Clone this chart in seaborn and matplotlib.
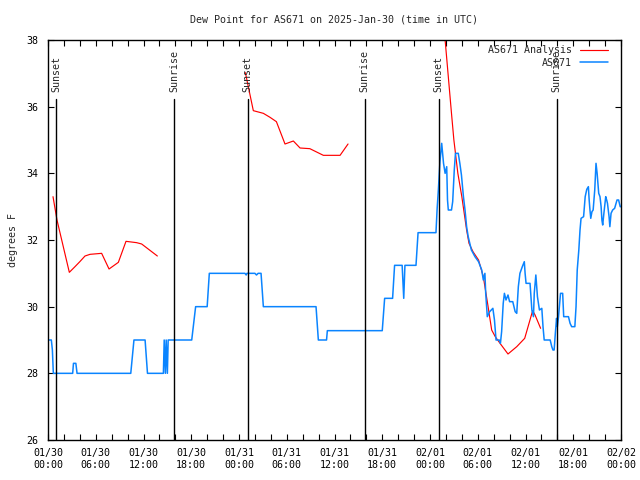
import numpy as np
import pandas as pd
import matplotlib
matplotlib.use('Agg')
import matplotlib.pyplot as plt
import seaborn as sns

# hours since 2025-01-30 00:00 UTC
analysis_seg1_t = [0.63, 1.13, 2.68, 3.39, 4.0, 4.65, 5.28, 6.74, 7.67, 8.84, 9.8, 11.14, 11.77, 13.74]
analysis_seg1_v = [33.3, 32.6, 31.03, 31.2, 31.35, 31.52, 31.57, 31.6, 31.13, 31.33, 31.96, 31.92, 31.88, 31.52]
analysis_seg2_t = [24.8, 25.8, 27.06, 27.9, 28.7, 29.78, 30.83, 31.67, 32.9, 34.6, 36.7, 37.7]
analysis_seg2_v = [37.02, 35.88, 35.8, 35.68, 35.55, 34.88, 34.97, 34.76, 34.74, 34.54, 34.54, 34.88]
analysis_seg3_t = [48.85, 49.5, 49.9, 50.3, 50.7, 51.0, 51.5, 52.0, 52.6, 52.9, 53.4, 54.1, 54.7, 55.3,
                   55.75, 56.2, 56.8, 57.8, 58.9, 59.9, 60.9, 61.2, 61.9]
analysis_seg3_v = [38.8, 38.6, 38.0, 36.9, 35.8, 35.0, 34.0, 33.3, 32.3, 31.9, 31.65, 31.4, 30.9, 30.0,
                   29.3, 29.1, 28.9, 28.58, 28.8, 29.05, 29.88, 29.75, 29.35]

obs_t = [0, 0.42, 0.55, 0.67, 3.1, 3.2, 3.5, 3.65, 10.4, 10.8, 12.2, 12.5, 14.5, 14.6, 14.75, 14.85,
         15.0, 15.1, 18.06, 18.55, 20.0, 20.27, 24.75, 24.9, 25.0, 26.0, 26.2, 26.4, 26.77, 27.06,
         33.68, 33.97, 35.0, 35.1, 42.0, 42.3, 43.3, 43.55, 44.5, 44.7, 44.85, 46.24, 46.5, 48.75,
         48.9, 49.05, 49.25, 49.47, 49.7, 49.9, 50.1, 50.2, 50.3, 50.7, 50.85, 51.05, 51.2, 51.55,
         51.75, 51.95, 52.2, 52.4, 52.6, 52.8, 53.2, 53.65, 54.1, 54.5, 54.7, 54.9, 55.0, 55.2,
         55.5, 55.9, 56.1, 56.3, 56.7, 56.85, 57.0, 57.2, 57.35, 57.55, 57.8, 58.0, 58.4, 58.7,
         58.9, 59.1, 59.3, 59.6, 59.85, 59.95, 60.07, 60.57, 60.8, 61.0, 61.1, 61.3, 61.5, 61.75,
         62.05, 62.2, 62.35, 63.1, 63.3, 63.45, 63.6, 63.75, 63.9, 64.0, 64.15, 64.4, 64.67, 64.8,
         65.4, 65.6, 65.8, 66.2, 66.35, 66.5, 66.7, 66.85, 66.98, 67.3, 67.5, 67.7, 67.9, 68.0,
         68.1, 68.2, 68.35, 68.5, 68.7, 68.86, 69.0, 69.2, 69.36, 69.5, 69.6, 69.7, 69.85, 70.08,
         70.2, 70.3, 70.5, 70.6, 70.75, 70.95, 71.2, 71.5, 71.7, 71.9, 72.0]
obs_v = [29.0, 29.0, 28.7, 28.0, 28.0, 28.3, 28.3, 28.0, 28.0, 29.0, 29.0, 28.0, 28.0, 29.0, 28.0, 29.0,
         28.0, 29.0, 29.0, 30.0, 30.0, 31.0, 31.0, 30.95, 31.0, 31.0, 30.95, 31.0, 31.0, 30.0,
         30.0, 29.0, 29.0, 29.28, 29.28, 30.25, 30.25, 31.24, 31.24, 30.25, 31.24, 31.24, 32.22, 32.22,
         32.95, 33.5, 34.35, 34.9, 34.3, 34.0, 34.2, 33.2, 32.9, 32.9, 33.15, 34.1, 34.6, 34.6,
         34.3, 33.95, 33.3, 32.9, 32.4, 32.1, 31.7, 31.5, 31.35, 31.1, 30.8, 31.0, 30.4, 29.7,
         29.85, 29.95, 29.6, 29.0, 29.0, 28.9, 29.25, 30.1, 30.4, 30.2, 30.35, 30.15, 30.15, 29.85,
         29.8, 30.6, 31.0, 31.2, 31.35, 31.0, 30.7, 30.7, 29.9, 29.7, 30.4, 30.95, 30.3, 29.9,
         29.95, 29.4, 29.0, 29.0, 28.8, 28.7, 28.7, 29.2, 29.65, 29.4, 29.7, 30.4, 30.4, 29.7,
         29.7, 29.5, 29.4, 29.4, 30.0, 31.1, 31.7, 32.3, 32.65, 32.7, 33.3, 33.52, 33.6, 33.2,
         32.9, 32.65, 32.85, 32.9, 33.5, 34.3, 34.0, 33.4, 33.3, 33.0, 32.6, 32.45, 32.8, 33.3,
         33.2, 33.1, 32.7, 32.4, 32.8, 32.9, 32.95, 33.2, 33.2, 33.0, 33.0]

sun_t = [1.0, 15.83, 25.1, 39.8, 49.1, 63.9]
sun_labels = ['Sunset', 'Sunrise', 'Sunset', 'Sunrise', 'Sunset', 'Sunrise']

tick_hours = list(range(0, 73, 6))
tick_labels = ['01/30\n00:00', '01/30\n06:00', '01/30\n12:00', '01/30\n18:00',
               '01/31\n00:00', '01/31\n06:00', '01/31\n12:00', '01/31\n18:00',
               '02/01\n00:00', '02/01\n06:00', '02/01\n12:00', '02/01\n18:00',
               '02/02\n00:00']

ana = pd.DataFrame({
    't': analysis_seg1_t + analysis_seg2_t + analysis_seg3_t,
    'v': analysis_seg1_v + analysis_seg2_v + analysis_seg3_v,
    'seg': [1] * len(analysis_seg1_t) + [2] * len(analysis_seg2_t) + [3] * len(analysis_seg3_t),
})
obs = pd.DataFrame({'t': obs_t, 'v': obs_v})

sns.set_theme(style='ticks')
plt.rcParams['font.family'] = ['DejaVu Sans Mono']
plt.rcParams['font.size'] = 7.2

fig = plt.figure(figsize=(6.4, 4.8), dpi=100)
ax = fig.add_axes([48 / 640, 40 / 480, 573 / 640, 400 / 480])

sns.lineplot(data=ana, x='t', y='v', units='seg', estimator=None, sort=False,
             color='#ff0000', linewidth=0.85, ax=ax, label='AS671 Analysis')
sns.lineplot(data=obs, x='t', y='v', estimator=None, sort=False,
             color='#0a84ff', linewidth=1.1, ax=ax, label='AS671')

for t, lab in zip(sun_t, sun_labels):
    ax.axvline(t, ymin=0, ymax=0.852, color='black', linewidth=1.0)
    ax.text(t, 0.87, lab, rotation=90, ha='center', va='bottom',
            transform=ax.get_xaxis_transform(), fontsize=7.2)

ax.set_xlim(0, 72)
ax.set_ylim(26, 38)
ax.set_xticks(tick_hours)
ax.set_xticklabels(tick_labels)
ax.set_xticks(np.arange(0, 73, 2), minor=True)
ax.set_yticks(np.arange(26, 39, 2))
ax.tick_params(axis='both', which='both', direction='in', length=4, width=0.8,
               top=True, right=True, labelsize=7.2, color='black', labelcolor='black')
ax.tick_params(axis='x', which='major', pad=6)
ax.tick_params(axis='y', which='major', pad=7)
for s in ax.spines.values():
    s.set_visible(True)
    s.set_color('black')
    s.set_linewidth(1.0)

ax.set_xlabel('')
ax.set_ylabel('degrees F', fontsize=7.2, labelpad=6)
ax.set_title('Dew Point for AS671 on 2025-Jan-30 (time in UTC)', fontsize=7.2, pad=12.5)

# one legend entry per series
handles, labels = ax.get_legend_handles_labels()
uniq = dict(zip(labels, handles))
uniq = {k: uniq[k] for k in ['AS671 Analysis', 'AS671']}
leg = ax.legend(list(uniq.values()), list(uniq.keys()), loc='upper right',
                markerfirst=False, frameon=False, fontsize=7.2,
                handlelength=2.8, handletextpad=0.8, labelspacing=0.25,
                bbox_to_anchor=(0.99, 1.005), borderaxespad=0.3)

fig.savefig('out.png', dpi=100)
